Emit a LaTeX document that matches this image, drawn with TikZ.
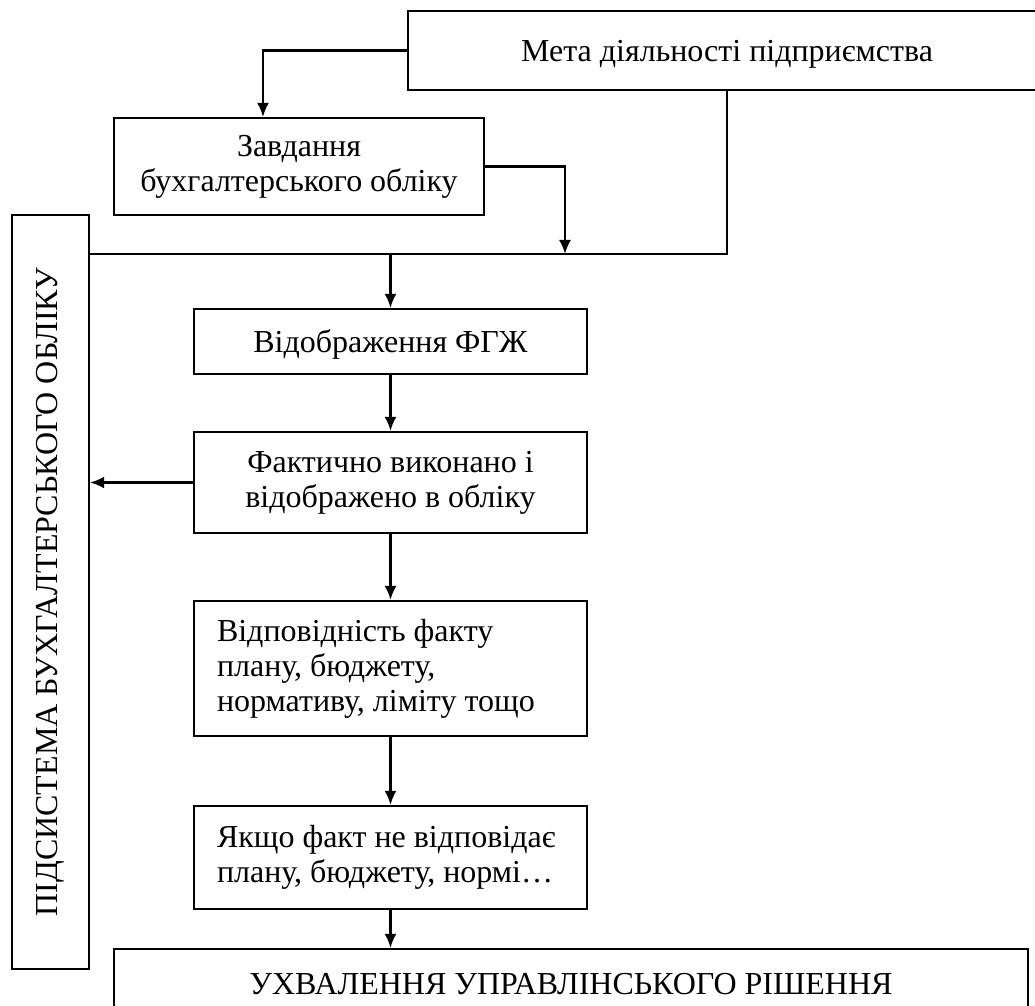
\documentclass[tikz,border=0pt]{standalone}
\usepackage{fontspec}
\setmainfont{Liberation Serif}
\usetikzlibrary{arrows.meta,calc}
\begin{document}
\begin{tikzpicture}[x=0.5pt,y=-0.5pt,
  every node/.style={font=\fontsize{16pt}{17.5pt}\selectfont},
  box/.style={draw,line width=1.1pt,rectangle,inner sep=0pt},
  leftbox/.style={box,align=flush left,text width=173.5pt,inner xsep=11.5pt},
  conn/.style={line width=1.1pt},
  arr/.style={conn,-{Latex[length=7pt,width=6pt]}}
]
\useasboundingbox (0,0) rectangle (1035,1006);
\clip (0,0) rectangle (1035,1006);
\fill[white] (0,0) rectangle (1035,1006);

\node[box,text depth=0pt,minimum width=319pt,minimum height=39.5pt] (meta) at (727,50.5) {Мета діяльності підприємства};
\node[box,align=center,minimum width=185pt,minimum height=48.5pt] (zavd) at (299,166.5) {Завдання\\бухгалтерського обліку};
\node[box,minimum width=377pt,minimum height=38.5pt,rotate=90] (pids) at (50.5,592) {ПІДСИСТЕМА БУХГАЛТЕРСЬКОГО ОБЛІКУ};
\node[box,text depth=0pt,minimum width=196.5pt,minimum height=32.5pt] (vidobr) at (390.5,341.5) {Відображення ФГЖ};
\node[box,align=center,minimum width=196.5pt,minimum height=50.5pt] (fakt) at (390.5,482.5) {Фактично виконано і\\відображено в обліку};
\node[leftbox,minimum height=67.5pt] (vidp) at (390.5,668.5) {Відповідність факту\\плану, бюджету,\\нормативу, ліміту тощо};
\node[leftbox,minimum height=51.5pt] (yak) at (390.5,857.5) {Якщо факт не відповідає\\плану, бюджету, нормі…};
\node[box,minimum width=457pt,minimum height=35pt] (ukhv) at (571,984) {УХВАЛЕННЯ УПРАВЛІНСЬКОГО РІШЕННЯ};

\coordinate (jr) at (727,254);
\coordinate (jz) at (565,254);
\coordinate (jm) at (390.5,254);

\draw[arr] (meta.west) -| ($(zavd.north)+(-36,0)$);
\draw[arr] (zavd.east) -| (jz);
\draw[conn] (meta.south -| jr) -- (jr) -- (pids.south |- jr);
\draw[arr] (jm) -- (vidobr.north);
\draw[arr] (vidobr.south) -- (fakt.north);
\draw[arr] (fakt.west) -- (pids.south |- fakt.west);
\draw[arr] (fakt.south) -- (vidp.north);
\draw[arr] (vidp.south) -- (yak.north);
\draw[arr] (yak.south) -- (yak.south |- ukhv.north);
\end{tikzpicture}
\end{document}
